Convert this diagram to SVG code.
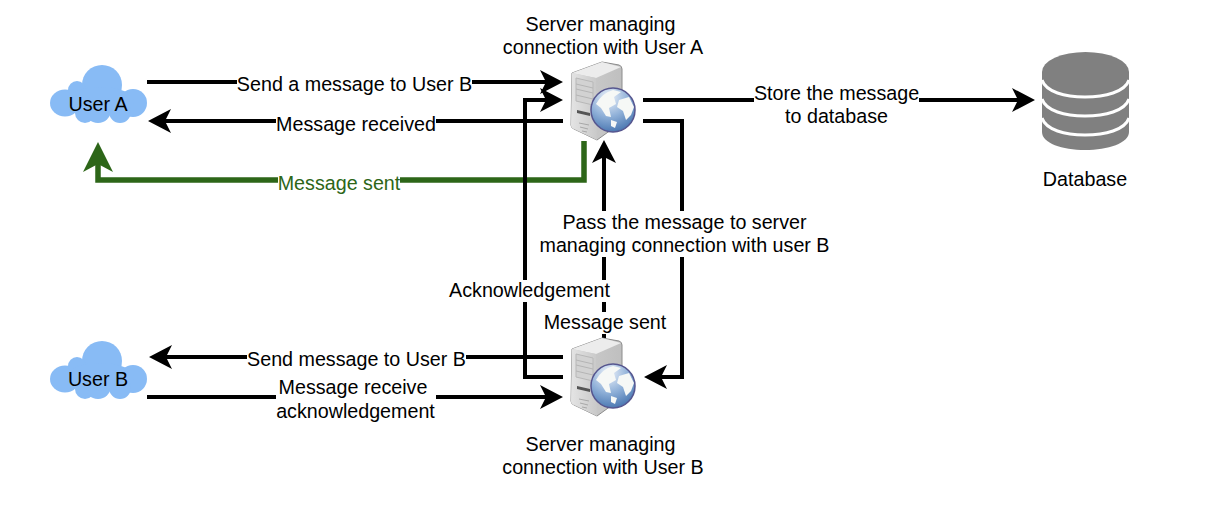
<svg xmlns="http://www.w3.org/2000/svg" width="1206" height="532" viewBox="0 0 1206 532">
<style>
text{font-family:"Liberation Sans",Arial,sans-serif;font-size:19.7px;fill:#000;text-anchor:middle}
.c{fill:none;stroke:#000;stroke-width:4}
.g{fill:none;stroke:#2d6618;stroke-width:5.5}
.bg{fill:#fff}
</style>
<defs>
<marker id="a" markerUnits="userSpaceOnUse" markerWidth="24" markerHeight="25" refX="13" refY="12.500" orient="auto" viewBox="0 0 24 25"><path d="M0 .5L23 12.500L0 24.500L6 12.500Z" fill="#000"/></marker>
<marker id="ag" markerUnits="userSpaceOnUse" markerWidth="31" markerHeight="31" refX="20" refY="15.500" orient="auto" viewBox="0 0 31 31"><path d="M0 .5L30 15.500L0 30.500L8 15.500Z" fill="#2d6618"/></marker>
<linearGradient id="tw" x1="0" x2="1" y1="0" y2="0"><stop offset="0" stop-color="#e4e4e4"/><stop offset="1" stop-color="#c9c9c9"/></linearGradient>
<linearGradient id="ts" x1="0" x2="1" y1="0" y2="0"><stop offset="0" stop-color="#cfcfcf"/><stop offset="1" stop-color="#bfbfbf"/></linearGradient>
<radialGradient id="gl" cx=".4" cy=".2" r=".9"><stop offset="0" stop-color="#eef3fa"/><stop offset=".5" stop-color="#8fb0d8"/><stop offset="1" stop-color="#3a6aa8"/></radialGradient>
<g id="srv">
<path d="M1 11L31 0L48 3Q51 4 51 7V60L26 78L3 67Q0 66 0 63Z" fill="url(#ts)" stroke="#8c8c8c"/>
<path d="M1 11L31 0L50 5L25 16Z" fill="#ececec"/>
<path d="M1 11L25 16L26 78L3 67Q0 66 0 63Z" fill="url(#tw)"/>
<path d="M5 16L22 20V43L5 39Z" fill="#d2d2d2" stroke="#b8b8b8"/>
<path d="M5 22L22 26M5 27L22 31M5 33L22 37" stroke="#b5b5b5" fill="none"/>
<path d="M6 48L19 51V54L6 51Z" fill="#555"/>
<path d="M8 61L18 63M9 65L17 67M11 69L16 70" stroke="#a8a8a8" fill="none"/>
<circle cx="42" cy="48" r="22" fill="url(#gl)" stroke="#56568f" stroke-width="1.5"/>
<path d="M25 42Q31 31 42 28L50 30L43 35L45 42L38 46L40 55L35 54L30 46ZM48 38L58 35L63 45L60 53L55 58L52 49L46 45ZM40 58L46 60L44 66L40 64Z" fill="#f6f8f6"/>
</g>
<g id="cl" fill="#88bbf5">
<ellipse cx="15" cy="38" rx="15" ry="13.500"/>
<circle cx="52" cy="20" r="20"/>
<circle cx="27" cy="25" r="9"/>
<circle cx="83" cy="38" r="14"/>
<circle cx="35" cy="48" r="10"/>
<circle cx="48" cy="45" r="13"/>
<circle cx="70" cy="47" r="11"/>
<ellipse cx="50" cy="36" rx="34" ry="14"/>
</g>
</defs>

<g id="connectors">
<path class="c" d="M147 82H553" marker-end="url(#a)"/>
<path class="c" d="M563 121H158" marker-end="url(#a)"/>
<path class="g" d="M584 141V180H98V152" marker-end="url(#ag)"/>
<path class="c" d="M643 100H1025" marker-end="url(#a)"/>
<path class="c" d="M643 121H682V377H654" marker-end="url(#a)"/>
<path class="c" d="M563 377H525V100H553" marker-end="url(#a)"/>
<path class="c" d="M604 338V150" marker-end="url(#a)"/>
<path class="c" d="M563 357H159" marker-end="url(#a)"/>
<path class="c" d="M147 397H553" marker-end="url(#a)"/>
</g>

<g id="edge-labels">
<rect class="bg" x="237" y="72" width="235" height="22"/><text x="354.500" y="91">Send a message to User B</text>
<rect class="bg" x="276" y="112" width="160" height="22"/><text x="356" y="131">Message received</text>
<rect class="bg" x="278" y="171" width="122" height="22"/><text x="339" y="190" style="fill:#2d6618">Message sent</text>
<rect class="bg" x="754" y="81" width="165" height="46"/><text x="836.500" y="100">Store the message</text><text x="836.500" y="123">to database</text>
<rect class="bg" x="538" y="211" width="292" height="46"/><text x="684.500" y="229">Pass the message to server</text><text x="684.500" y="252">managing connection with user B</text>
<rect class="bg" x="449" y="280" width="161" height="22"/><text x="529.500" y="297">Acknowledgement</text>
<rect class="bg" x="543" y="312" width="124" height="22"/><text x="605" y="329">Message sent</text>
<rect class="bg" x="247" y="348" width="219" height="22"/><text x="356.500" y="366">Send message to User B</text>
<rect class="bg" x="276" y="377" width="160" height="46"/><text x="353" y="394">Message receive</text><text x="355.500" y="418">acknowledgement</text>
</g>

<g id="user-a"><use href="#cl" x="50" y="65"/><text x="98" y="111">User A</text></g>
<g id="user-b"><use href="#cl" x="50" y="341"/><text x="98" y="386">User B</text></g>
<g id="server-a"><use href="#srv" x="571" y="62"/><text x="600.500" y="31">Server managing</text><text x="603" y="54">connection with User A</text></g>
<g id="server-b"><use href="#srv" x="571" y="338"/><text x="600.500" y="451">Server managing</text><text x="603" y="474">connection with User B</text></g>
<g id="database">
<path d="M1042 72V132C1042 143 1062 150 1085 150C1108 150 1129 143 1129 132V72Z" fill="#808080"/>
<ellipse cx="1085.500" cy="72" rx="43.500" ry="20" fill="#808080"/>
<path d="M1042 80C1046 92 1065 97 1085 97C1105 97 1125 92 1129 80M1042 99C1046 111 1065 116 1085 116C1105 116 1125 111 1129 99M1042 118C1046 130 1065 135 1085 135C1105 135 1125 130 1129 118" fill="none" stroke="#fff" stroke-width="3"/>
<text x="1085" y="186">Database</text>
</g>
</svg>
